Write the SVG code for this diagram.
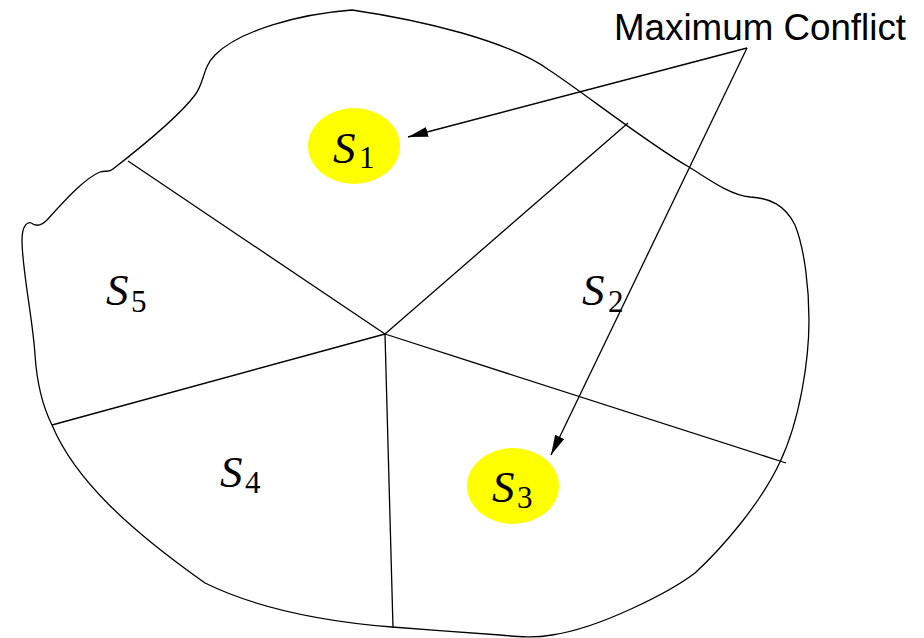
<svg xmlns="http://www.w3.org/2000/svg" width="924" height="638" viewBox="0 0 924 638">
<style>
.ln{fill:none;stroke:#000;stroke-width:1.3}
.S{font-family:"Liberation Serif",serif;font-style:italic;font-size:45px;fill:#000}
.sub{font-family:"Liberation Serif",serif;font-size:31px;fill:#000}
.lbl{font-family:"Liberation Sans",sans-serif;font-size:37px;fill:#000}
.site{fill:#ffff00;stroke:none}
</style>
<defs>
<marker id="ah" markerUnits="userSpaceOnUse" markerWidth="22" markerHeight="12" refX="20" refY="5" orient="auto">
<path d="M0,0 L20,5 L0,10 Z" fill="#000"/>
</marker>
</defs>
<g id="region">
<path class="ln" d="M352,10 C400,17 430,24 462,33 C500,44 530,56 549,70 C580,90 650,145 689,167 C710,180 730,195 750,197 C770,198 785,205 795,225 C805,250 809,290 809,320 C809,360 800,420 780,462 C760,505 720,550 695,573 C670,592 600,628 552,635 C535,638 520,637 500,635 C460,632 430,630 392,627 C330,622 260,610 205,583 C130,530 75,480 52,425 C42,405 37,385 35,355 C33,320 22,270 22,240 C22,225 28,220 33,224 C38,227 42,225 47,220 C65,200 85,178 100,172 C106,170 109,173 113,169 C140,148 180,115 195,95 C205,82 202,68 215,55 C240,30 300,14 352,10 Z"/>
</g>
<g id="partition">
<line class="ln" x1="385" y1="334" x2="128" y2="161"/>
<line class="ln" x1="385" y1="334" x2="628" y2="123"/>
<line class="ln" x1="385" y1="334" x2="52" y2="425"/>
<line class="ln" x1="385" y1="334" x2="393" y2="628"/>
<line class="ln" x1="385" y1="334" x2="786" y2="463"/>
</g>
<g id="S1">
<ellipse class="site" cx="354" cy="146" rx="46" ry="38"/>
<text class="S" x="333" y="163">S</text><text class="sub" x="359" y="168">1</text>
</g>
<g id="S2">
<text class="S" x="582" y="305">S</text><text class="sub" x="608" y="312">2</text>
</g>
<g id="S3">
<ellipse class="site" cx="513" cy="486" rx="46" ry="38"/>
<text class="S" x="492" y="502">S</text><text class="sub" x="517" y="508">3</text>
</g>
<g id="S4">
<text class="S" x="220" y="487">S</text><text class="sub" x="245" y="493">4</text>
</g>
<g id="S5">
<text class="S" x="106" y="305">S</text><text class="sub" x="131" y="312">5</text>
</g>
<g id="label">
<text class="lbl" x="614" y="40" textLength="292" lengthAdjust="spacingAndGlyphs">Maximum Conflict</text>
</g>
<g id="connectors">
<line class="ln" x1="747" y1="48" x2="408" y2="137" marker-end="url(#ah)"/>
<line class="ln" x1="747" y1="48" x2="551" y2="455" marker-end="url(#ah)"/>
</g>
</svg>
